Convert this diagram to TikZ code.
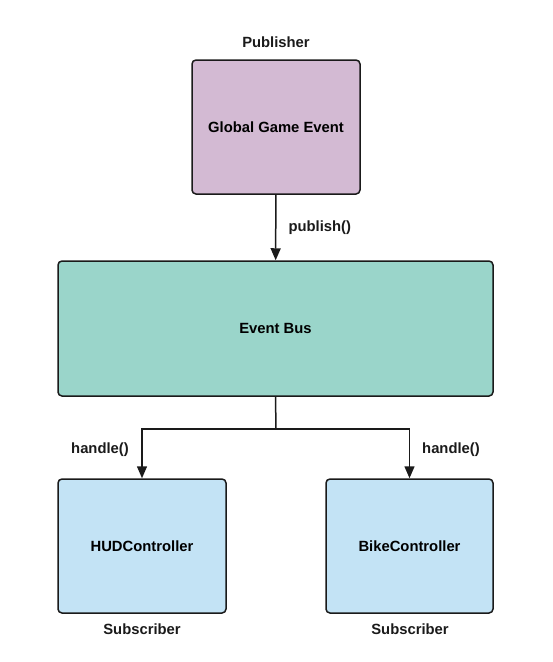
\documentclass[tikz,border=0pt]{standalone}
\usepackage{fontspec}
\setmainfont{Liberation Sans}
\usetikzlibrary{arrows.meta}
\definecolor{pubfill}{HTML}{D3BAD3}
\definecolor{busfill}{HTML}{9AD5CA}
\definecolor{subfill}{HTML}{C3E3F5}
\definecolor{linecol}{HTML}{1A1A1A}
\begin{document}
\begin{tikzpicture}[x=1pt,y=-1pt]

            \tikzset{box/.style={draw=linecol, line width=1.5pt, rounded corners=4pt,
                                 font=\fontsize{14.8}{17}\selectfont\bfseries},
                     lbl/.style={font=\fontsize{14.8}{17}\selectfont\bfseries, text=linecol},
                     conn/.style={draw=linecol, line width=1.5pt},
                     tip/.style={-{Triangle[length=12pt,width=10pt]}}}

            \useasboundingbox (0,0) rectangle (553,662);

            \node [box, fill=pubfill, minimum width=168pt, minimum height=134pt] (gge) at (276,127) {Global Game Event};
            \node [box, fill=busfill, minimum width=435pt, minimum height=135pt] (bus) at (275.5,328.5) {Event Bus};
            \node [box, fill=subfill, minimum width=168pt, minimum height=134pt] (hud) at (142,546) {HUDController};
            \node [box, fill=subfill, minimum width=167pt, minimum height=134pt] (bike) at (409.5,546) {BikeController};

            \coordinate (split) at (276,429);

            \draw [conn, tip] (gge) -- (bus);
            \draw [conn] (bus.south) -- (split);
            \draw [conn, tip] (split) -| (hud.north);
            \draw [conn, tip] (split) -| (bike.north);

			\node [lbl] (pub) at (276,42) {Publisher};
            \node [lbl, anchor=west] (publish) at (285,228) {publish()};
            \node [lbl] (handleL) at (100,450) {handle()};
            \node [lbl] (handleR) at (451,450) {handle()};
            \node [lbl] (subL) at (142,629) {Subscriber};
            \node [lbl] (subR) at (410,629) {Subscriber};

        \end{tikzpicture}
\end{document}
